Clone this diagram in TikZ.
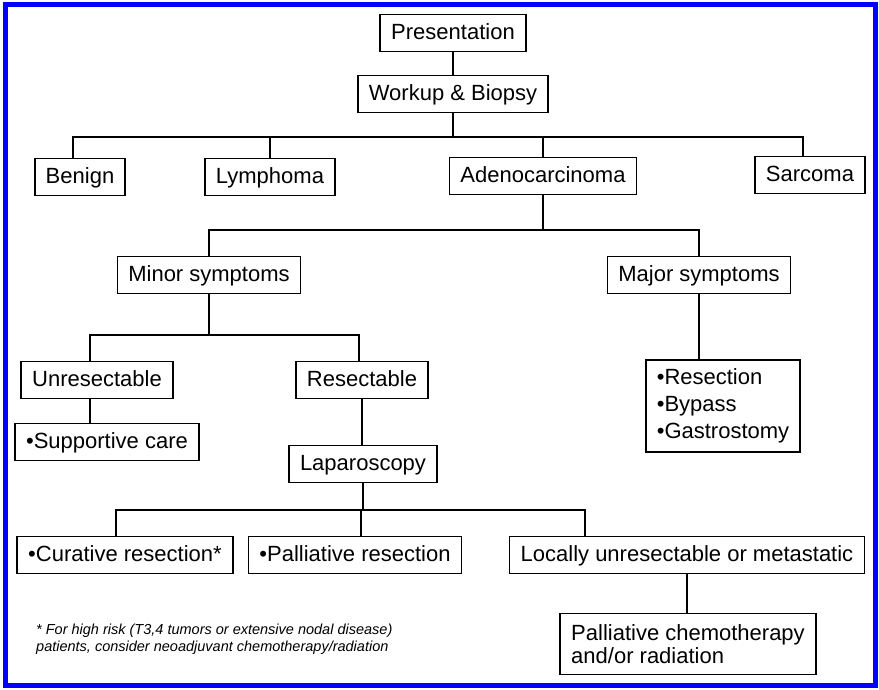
\documentclass[tikz,border=0pt]{standalone}
\usepackage{fontspec}
\setmainfont{Liberation Sans}
\begin{document}
\begin{tikzpicture}[x=1pt, y=-1pt,
    box/.style={draw, line width=1.6pt, inner xsep=11pt, inner ysep=9.5pt,
      text height=15pt, text depth=3pt, font=\fontsize{22}{26}\selectfont},
    listbox/.style={draw, line width=1.6pt, align=left, inner xsep=11pt,
      font=\fontsize{22}{27}\selectfont},
    link/.style={line width=1.3pt}]
  \useasboundingbox (0,0) rectangle (879,689);
  \draw[blue, line width=5pt] (5,4.5) rectangle (875.5,685.5);
  \node[box] (pres) at (453,33) {Presentation};
  \node[box] (workup) at (453,94) {Workup \& Biopsy};
  \node[box] (benign) at (80,177) {Benign};
  \node[box] (lymph) at (270,177) {Lymphoma};
  \node[box] (adeno) at (543,176) {Adenocarcinoma};
  \node[box] (sarcoma) at (810,175) {Sarcoma};
  \node[box] (minor) at (209,275) {Minor symptoms};
  \node[box] (major) at (699,275) {Major symptoms};
  \node[box] (unres) at (97,380) {Unresectable};
  \node[box] (resect) at (362,380) {Resectable};
  \node[box] (support) at (107,442) {•Supportive care};
  \node[box] (lap) at (363,464) {Laparoscopy};
  \node[listbox, inner ysep=9pt] (resbox) at (723,406) {•Resection\\•Bypass\\•Gastrostomy};
  \node[box] (curative) at (125,555) {•Curative resection*};
  \node[box] (pall) at (355,555) {•Palliative resection};
  \node[box] (locally) at (687,555) {Locally unresectable or metastatic};
  \node[listbox, inner ysep=11pt, font=\fontsize{22}{23}\selectfont] (chemo) at (688,644)
    {Palliative chemotherapy\\and/or radiation};
  \node[anchor=north west, align=left, inner sep=0pt,
    font=\fontsize{14.5}{17}\selectfont\itshape] (note) at (36,624)
    {* For high risk (T3,4 tumors or extensive nodal disease)\\
     patients, consider neoadjuvant chemotherapy/radiation};
  \coordinate (j1) at (452,137);
  \coordinate (j2) at (542,230);
  \coordinate (j3) at (209,335);
  \coordinate (j4) at (361,510);
  \draw[link] (pres) -- (workup);
  \draw[link] (workup.south) -- (workup.south |- j1);
  \draw[link] ([xshift=-7pt]benign.north) |- (j1) -| ([xshift=-7pt]sarcoma.north);
  \draw[link] (lymph.north) -- (lymph.north |- j1);
  \draw[link] (adeno.north) -- (adeno.north |- j1);
  \draw[link] (adeno.south) -- (adeno.south |- j2);
  \draw[link] (minor.north) |- (j2) -| (major.north);
  \draw[link] (minor.south) -- (minor.south |- j3);
  \draw[link] ([xshift=-7pt]unres.north) |- (j3) -| ([xshift=-3pt]resect.north);
  \draw[link] ([xshift=-7pt]unres.south) -- ([xshift=-7pt]unres.south |- support.north);
  \draw[link] (resect.south) -- (resect.south |- lap.north);
  \draw[link] (major.south) -- (major.south |- resbox.north);
  \draw[link] (lap.south) -- (lap.south |- j4);
  \draw[link] ([xshift=-9pt]curative.north) |- (j4) -| ([xshift=-102pt]locally.north);
  \draw[link] ([xshift=6pt]pall.north) -- ([xshift=6pt]pall.north |- j4);
  \draw[link] (locally.south) -- (locally.south |- chemo.north);
\end{tikzpicture}
\end{document}
